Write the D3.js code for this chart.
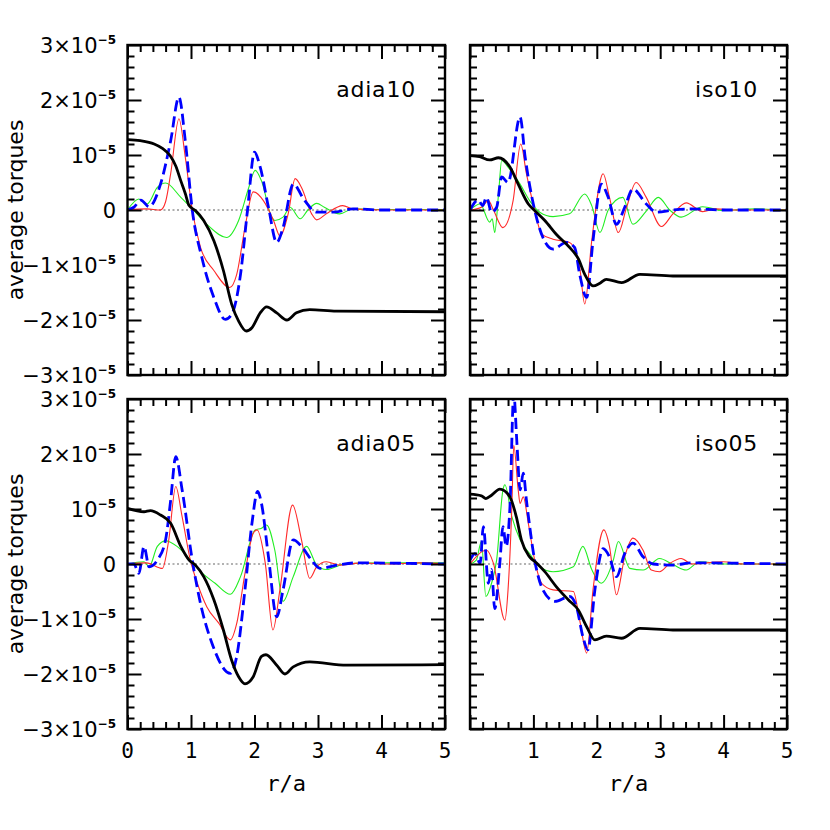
<!DOCTYPE html>
<html>
<head>
<meta charset="utf-8">
<script src="https://cdn.jsdelivr.net/npm/d3@7"></script>
<style>
body { margin: 0; background: #fff; }
svg text { font-family: "DejaVu Sans", sans-serif; fill: #000; }
</style>
</head>
<body>
<svg id="chart" width="830" height="830"></svg>
<script>
// values: [r/a, torque in units of 1e-5]
const adia10Black = [[0,1.28],[0.2,1.26],[0.42,1.2],[0.55,1.12],[0.67,0.99],[0.76,0.8],[0.84,0.53],[0.91,0.3],[0.97,0.08],[1.07,-0.01],[1.2,-0.19],[1.36,-0.56],[1.51,-1.1],[1.64,-1.71],[1.75,-2.02],[1.87,-2.2],[1.96,-2.14],[2.09,-1.87],[2.19,-1.76],[2.35,-1.87],[2.51,-2.0],[2.66,-1.87],[2.87,-1.81],[3.29,-1.84],[5,-1.85]]
const adia10Blue = [[0,0],[0.1,0.05],[0.21,0.18],[0.34,0.06],[0.52,0.47],[0.68,1.26],[0.81,2.05],[0.91,1.26],[1.02,0],[1.17,-0.86],[1.36,-1.59],[1.54,-1.99],[1.64,-1.9],[1.78,-1.17],[1.89,0],[2.0,1.05],[2.09,0.78],[2.22,0.05],[2.35,-0.59],[2.45,-0.32],[2.61,0.47],[2.79,0.17],[2.98,-0.04],[3.24,-0.04],[3.55,0.02],[4,0],[5,0]]
const adia10Red = [[0,0],[0.3,0.02],[0.52,0],[0.6,0.15],[0.68,0.66],[0.81,1.66],[0.91,0.96],[1.02,0],[1.15,-0.68],[1.36,-1.1],[1.61,-1.41],[1.72,-1.17],[1.85,-0.32],[1.98,0.33],[2.14,0.17],[2.3,-0.19],[2.4,-0.47],[2.53,-0.07],[2.64,0.57],[2.74,0.41],[2.9,-0.07],[2.98,-0.18],[3.13,-0.07],[3.39,0.08],[3.55,0.02],[4,0],[5,0]]
const adia10Green = [[0,0],[0.18,0.2],[0.31,0.11],[0.47,0.41],[0.6,0.49],[0.84,0.23],[1.02,0.02],[1.25,-0.26],[1.56,-0.5],[1.75,-0.19],[1.91,0.41],[2.01,0.72],[2.11,0.53],[2.27,-0.13],[2.32,-0.19],[2.45,-0.13],[2.56,0.05],[2.72,-0.16],[2.84,0],[2.98,0.12],[3.1,0.05],[3.34,-0.07],[3.55,0.02],[4,0.01],[5,0.01]]

const iso10Black = [[0,0.99],[0.15,0.97],[0.31,0.91],[0.45,0.95],[0.63,0.78],[0.76,0.47],[0.92,0.11],[1.02,-0.01],[1.18,-0.19],[1.36,-0.44],[1.57,-0.68],[1.71,-0.89],[1.81,-1.17],[1.94,-1.38],[2.05,-1.33],[2.15,-1.26],[2.39,-1.32],[2.68,-1.17],[3.2,-1.2],[5,-1.2]]
const iso10Blue = [[0,0],[0.13,0.18],[0.2,0.08],[0.26,0.23],[0.34,-0.04],[0.42,0.05],[0.5,0.6],[0.6,0.5],[0.79,1.69],[0.87,0.96],[1.02,0],[1.15,-0.5],[1.31,-0.71],[1.52,-0.59],[1.65,-0.68],[1.73,-1.17],[1.84,-1.59],[1.94,-0.56],[2.07,0.47],[2.18,0.23],[2.31,-0.26],[2.44,0.05],[2.57,0.38],[2.78,0.11],[2.94,-0.04],[3.2,0],[3.5,0.02],[4,0],[5,0]]
const iso10Red = [[0,0],[0.18,0.05],[0.29,0.17],[0.37,0],[0.52,-0.32],[0.68,0.17],[0.8,1.2],[0.89,0.66],[1.02,0],[1.13,-0.44],[1.31,-0.53],[1.57,-0.59],[1.73,-1.05],[1.81,-1.71],[1.92,-0.56],[2.1,0.66],[2.2,0.23],[2.34,-0.41],[2.47,0.05],[2.62,0.5],[2.78,0.23],[3.02,-0.3],[3.2,-0.07],[3.41,0.13],[3.67,-0.03],[3.88,0.02],[4.2,0],[5,0]]
const iso10Green = [[0,0],[0.16,0.11],[0.31,-0.22],[0.35,-0.16],[0.39,-0.41],[0.45,0.29],[0.5,0.9],[0.6,0.78],[0.79,0.47],[0.94,0.17],[1.1,-0.04],[1.31,-0.12],[1.57,-0.07],[1.81,0.29],[1.92,0.08],[2.05,-0.41],[2.18,0],[2.41,0.23],[2.57,-0.26],[2.78,-0.02],[2.97,0.23],[3.15,0],[3.33,-0.13],[3.67,0.06],[3.99,-0.01],[4.5,0.02],[5,0]]

const adia05Black = [[0,1.01],[0.26,0.95],[0.36,0.97],[0.52,0.89],[0.68,0.74],[0.84,0.32],[0.97,0.07],[1.07,-0.02],[1.2,-0.23],[1.36,-0.65],[1.51,-1.2],[1.64,-1.75],[1.75,-2.05],[1.85,-2.18],[1.98,-2.05],[2.11,-1.68],[2.18,-1.65],[2.35,-1.84],[2.48,-2.0],[2.61,-1.87],[2.87,-1.78],[3.45,-1.84],[5,-1.83]]
const adia05Blue = [[0,0],[0.1,0],[0.18,-0.17],[0.26,0.32],[0.34,-0.05],[0.47,0.07],[0.6,0.44],[0.68,1.16],[0.76,1.95],[0.86,1.35],[1.02,0.07],[1.15,-0.72],[1.33,-1.44],[1.62,-1.99],[1.72,-1.68],[1.85,-0.47],[1.96,0.74],[2.05,1.32],[2.11,1.1],[2.22,0.13],[2.35,-0.96],[2.45,-0.47],[2.61,0.44],[2.74,0.32],[2.9,0.07],[3.03,-0.08],[3.3,-0.02],[3.6,0.02],[5,0]]
const adia05Red = [[0,0],[0.3,0.02],[0.55,-0.08],[0.65,0.44],[0.76,1.41],[0.86,0.86],[0.99,0.07],[1.1,-0.35],[1.25,-0.78],[1.44,-1.08],[1.62,-1.38],[1.72,-1.08],[1.85,-0.17],[1.98,0.56],[2.04,0.62],[2.17,0.01],[2.29,-1.2],[2.4,-0.47],[2.6,1.07],[2.74,0.44],[2.87,-0.26],[2.98,-0.05],[3.13,0.04],[3.35,-0.02],[3.7,0.02],[4.1,0],[4.6,0.02],[5,0]]
const adia05Green = [[0,0],[0.26,0.04],[0.34,-0.05],[0.47,0.32],[0.6,0.42],[0.78,0.32],[0.97,0.1],[1.15,-0.14],[1.38,-0.35],[1.62,-0.55],[1.78,-0.23],[2.01,0.62],[2.11,0.65],[2.19,0.71],[2.32,0.25],[2.45,-0.68],[2.61,-0.23],[2.82,0.32],[2.98,-0.02],[3.13,-0.1],[3.45,0.01],[4.1,0.02],[5,0.02]]

const iso05Black = [[0,1.27],[0.18,1.24],[0.25,1.19],[0.34,1.25],[0.47,1.36],[0.63,1.22],[0.73,0.86],[0.81,0.44],[0.94,0.13],[1.05,0.02],[1.18,-0.14],[1.36,-0.41],[1.55,-0.65],[1.71,-0.84],[1.84,-1.14],[1.97,-1.38],[2.15,-1.31],[2.39,-1.35],[2.68,-1.17],[3.2,-1.2],[5,-1.2]]
const iso05Blue = [[0,0.07],[0.08,0.19],[0.16,0.01],[0.21,0.68],[0.29,-0.35],[0.34,-0.1],[0.39,-0.81],[0.47,0.01],[0.52,0.68],[0.57,0.32],[0.63,1.04],[0.69,3.1],[0.74,2.2],[0.79,1.35],[0.84,1.65],[0.89,1.16],[1.02,0.07],[1.15,-0.47],[1.34,-0.68],[1.57,-0.59],[1.68,-0.78],[1.78,-1.32],[1.86,-1.56],[1.97,-0.47],[2.1,0.28],[2.2,0.13],[2.31,-0.23],[2.44,0.19],[2.57,0.38],[2.73,0.13],[2.89,0],[3.2,-0.02],[3.5,0.02],[5,0]]
const iso05Red = [[0,0],[0.26,0.25],[0.37,0.01],[0.55,-1.02],[0.6,-0.47],[0.66,1.04],[0.69,2.16],[0.76,1.35],[0.79,1.1],[0.84,1.22],[0.92,0.74],[1.02,0.07],[1.13,-0.35],[1.31,-0.47],[1.63,-0.5],[1.73,-1.02],[1.84,-1.62],[1.94,-0.47],[2.11,0.62],[2.2,0.32],[2.31,-0.56],[2.44,0.13],[2.57,0.47],[2.73,0.25],[2.86,-0.11],[2.99,-0.14],[3.15,0.01],[3.33,0.1],[3.5,0],[3.99,0.04],[4.3,0],[5,0]]
const iso05Green = [[0,0],[0.1,0.07],[0.18,0.41],[0.25,-0.59],[0.34,-0.35],[0.42,0.07],[0.52,1.35],[0.55,1.44],[0.66,0.86],[0.79,0.44],[0.94,0.19],[1.1,-0.05],[1.31,-0.14],[1.63,-0.05],[1.78,0.32],[1.92,-0.1],[2.07,-0.35],[2.26,0.07],[2.34,0.41],[2.52,-0.08],[2.73,-0.11],[2.99,0.1],[3.2,-0.01],[3.41,-0.11],[3.62,0.04],[4,0],[5,0]]

const panelNames = ['adia10', 'iso10', 'adia05', 'iso05']
const yTickValues = [-3, -2, -1, 0, 1, 2, 3]
const xTickValues = [0, 1, 2, 3, 4, 5]

const panelSeries = {
    adia10: [adia10Green, adia10Red, adia10Blue, adia10Black],
    iso10: [iso10Green, iso10Red, iso10Blue, iso10Black],
    adia05: [adia05Green, adia05Red, adia05Blue, adia05Black],
    iso05: [iso05Green, iso05Red, iso05Blue, iso05Black]
}

// styles for green, red, blue, black (drawing order)
const seriesStyle = [
    {stroke: '#22ee22', width: 1.1, dash: null},
    {stroke: '#ff2a2a', width: 1.1, dash: null},
    {stroke: '#0000ff', width: 2.8, dash: '11,5'},
    {stroke: '#000000', width: 2.8, dash: null}
]

// layout
const colX = [[127.5, 445], [470, 787]]
const rowY = [[45, 375], [399, 729]]

const svg = d3.select('#chart')
const minorX = d3.range(0, 5.001, 0.2).map(v => +v.toFixed(1)).filter(v => !Number.isInteger(v))
const minorY = d3.range(-3, 3.001, 0.2).map(v => +v.toFixed(1)).filter(v => !Number.isInteger(v))

panelNames.forEach((name, i) => {
    const col = i % 2, row = Math.floor(i / 2)
    const [x0, x1] = colX[col]
    const [y0, y1] = rowY[row]
    const x = d3.scaleLinear().domain([0, 5]).range([x0, x1])
    const y = d3.scaleLinear().domain([-3, 3]).range([y1, y0])
    const g = svg.append('g').attr('class', 'panel-' + name)

    g.append('clipPath').attr('id', 'clip-' + name)
        .append('rect').attr('x', x0).attr('y', y0).attr('width', x1 - x0).attr('height', y1 - y0)

    const plot = g.append('g').attr('clip-path', `url(#clip-${name})`)

    // zero line
    plot.append('line')
        .attr('x1', x0).attr('x2', x1).attr('y1', y(0)).attr('y2', y(0))
        .attr('stroke', row === 0 ? '#333' : '#999')
        .attr('stroke-width', row === 0 ? 0.8 : 1.4)
        .attr('stroke-dasharray', '2,2.5')

    const line = d3.line().x(d => x(d[0])).y(d => y(d[1])).curve(d3.curveMonotoneX)
    panelSeries[name].forEach((data, k) => {
        const s = seriesStyle[k]
        plot.append('path')
            .attr('d', line(data))
            .attr('fill', 'none')
            .attr('stroke', s.stroke)
            .attr('stroke-width', s.width)
            .attr('stroke-dasharray', s.dash)
            .attr('stroke-linejoin', 'round')
    })

    // inward ticks on all four sides
    const tickStyle = sel => {
        sel.select('.domain').remove()
        sel.selectAll('.tick line').attr('stroke', '#000').attr('stroke-width', 2)
        sel.selectAll('.tick text').remove()
    }
    const axes = [
        [d3.axisBottom(x), `translate(0,${y1})`, -1],
        [d3.axisTop(x), `translate(0,${y0})`, -1],
        [d3.axisLeft(y), `translate(${x0},0)`, -1],
        [d3.axisRight(y), `translate(${x1},0)`, -1]
    ]
    axes.forEach(([ax, tr], j) => {
        const horiz = j < 2
        g.append('g').attr('transform', tr)
            .call(ax.tickValues(horiz ? minorX : minorY).tickSize(-7).tickFormat(''))
            .call(tickStyle)
        g.append('g').attr('transform', tr)
            .call(ax.tickValues(horiz ? xTickValues : yTickValues).tickSize(-14).tickFormat(''))
            .call(tickStyle)
    })

    // frame
    g.append('rect')
        .attr('x', x0).attr('y', y0).attr('width', x1 - x0).attr('height', y1 - y0)
        .attr('fill', 'none').attr('stroke', '#000').attr('stroke-width', 2.4)

    // panel title
    g.append('text')
        .attr('x', x1 - 29).attr('y', y0 + 52)
        .attr('text-anchor', 'end')
        .style('font-size', '22px')
        .style('letter-spacing', '0.8px')
        .text(name)

    // y tick labels on the left column
    if (col === 0) {
        yTickValues.forEach(v => {
            const t = g.append('text')
                .attr('x', 116).attr('y', y(v) + 8)
                .attr('text-anchor', 'end')
                .style('font-size', '21px')
            if (v === 0) { t.text('0'); return }
            const mant = v === 1 ? '10' : (v < 0 ? '\u2212' : '') + Math.abs(v) + '\u00d710'
            t.append('tspan').text(mant)
            t.append('tspan').attr('dy', -9).style('font-size', '12px').style('font-weight', 'bold').text('\u2212' + '5')
        })
        g.append('text')
            .attr('transform', `translate(23,${(y0 + y1) / 2}) rotate(-90)`)
            .attr('text-anchor', 'middle')
            .style('font-size', '22px')
            .text('average torques')
    }

    // x tick labels on the bottom row
    if (row === 1) {
        xTickValues.filter(v => col === 0 || v > 0).forEach(v => {
            g.append('text')
                .attr('x', x(v)).attr('y', 758)
                .attr('text-anchor', 'middle')
                .style('font-family', '"DejaVu Sans Mono", monospace')
                .style('font-size', '21px')
                .text(v)
        })
        g.append('text')
            .attr('x', (x0 + x1) / 2).attr('y', 791)
            .attr('text-anchor', 'middle')
            .style('font-family', '"DejaVu Sans Mono", monospace')
            .style('font-size', '22px')
            .text('r/a')
    }
})
</script>
</body>
</html>
